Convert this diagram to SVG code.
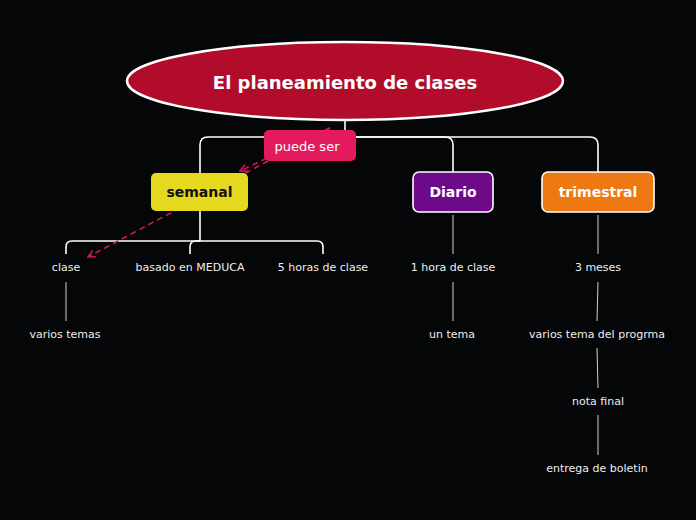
<svg xmlns="http://www.w3.org/2000/svg" width="696" height="520" viewBox="0 0 696 520">
<defs>
<style>
.bg{fill:#050608}
.conn{fill:none;stroke:#ffffff;stroke-width:1.6}
.sub{fill:none;stroke:#d0d0d0;stroke-width:1}
.dash{fill:none;stroke:#d0145a;stroke-width:1.6;stroke-dasharray:6,4}
.lbl{font-family:"DejaVu Sans",Verdana,sans-serif;font-size:11px;fill:#eeeeee;text-anchor:middle;dominant-baseline:central}
.ttl{font-family:"DejaVu Sans",Verdana,sans-serif;font-weight:bold;text-anchor:middle;dominant-baseline:central}
</style>
<marker id="arr" viewBox="0 0 10 10" refX="9" refY="5" markerWidth="9" markerHeight="9" markerUnits="userSpaceOnUse" orient="auto">
<path d="M1,1 L9,5 L1,9" fill="none" stroke="#d0145a" stroke-width="1.8"/>
</marker>
</defs>
<rect class="bg" x="0" y="0" width="696" height="520"/>
<g id="connectors">
<path class="conn" d="M345,120 V137 H590 Q598,137 598,145 V172"/>
<path class="conn" d="M200,173 V145 Q200,137 208,137 H445 Q453,137 453,145 V172"/>
<path class="conn" d="M200,211 V241"/>
<path class="conn" d="M66,254 V247 Q66,241 72,241 H200"/>
<path class="conn" d="M190,254 V247 Q190,241 196,241 H317 Q323,241 323,247 V254"/>
<path class="sub" d="M453,215 V254"/>
<path class="sub" d="M598,215 V254"/>
<path class="sub" d="M66,282 V321"/>
<path class="sub" d="M453,282 V321"/>
<path class="sub" d="M598,282 L597,321"/>
<path class="sub" d="M597,348 L598,388"/>
<path class="sub" d="M598,415 V455"/>
<path class="dash" d="M330,128 L240,171" marker-end="url(#arr)"/>
<path class="dash" d="M330,128 L88,257" marker-end="url(#arr)"/>
</g>
<g id="root">
<ellipse cx="345" cy="81" rx="218" ry="39" fill="#b10d2b" stroke="#ffffff" stroke-width="2.5"/>
<text class="ttl" x="345" y="82" font-size="18" fill="#ffffff">El planeamiento de clases</text>
</g>
<g id="puede-ser">
<rect x="264" y="130" width="92" height="31" rx="5" fill="#e31b5d"/>
<text class="ttl" x="307" y="146" font-size="13" style="font-weight:normal" fill="#ffffff">puede ser</text>
</g>
<g id="semanal">
<rect x="151" y="173" width="97" height="38" rx="5" fill="#e6d81e"/>
<text class="ttl" x="199.5" y="192" font-size="14" fill="#111111">semanal</text>
</g>
<g id="diario">
<rect x="413" y="172" width="80" height="40" rx="6" fill="#6d0a8a" stroke="#ffffff" stroke-width="1.6"/>
<text class="ttl" x="453" y="192" font-size="14" fill="#ffffff">Diario</text>
</g>
<g id="trimestral">
<rect x="542" y="172" width="112" height="40" rx="6" fill="#ee7811" stroke="#ffffff" stroke-width="1.6"/>
<text class="ttl" x="598" y="192" font-size="14" fill="#ffffff">trimestral</text>
</g>
<g id="clase"><text class="lbl" x="66" y="267">clase</text></g>
<g id="basado"><text class="lbl" x="190" y="267">basado en MEDUCA</text></g>
<g id="cinco-horas"><text class="lbl" x="323" y="267">5 horas de clase</text></g>
<g id="varios-temas"><text class="lbl" x="65" y="334">varios temas</text></g>
<g id="una-hora"><text class="lbl" x="453" y="267">1 hora de clase</text></g>
<g id="un-tema"><text class="lbl" x="452" y="334">un tema</text></g>
<g id="tres-meses"><text class="lbl" x="598" y="267">3 meses</text></g>
<g id="varios-tema"><text class="lbl" x="597" y="334">varios tema del progrma</text></g>
<g id="nota-final"><text class="lbl" x="598" y="401">nota final</text></g>
<g id="entrega"><text class="lbl" x="597" y="468">entrega de boletin</text></g>
</svg>
